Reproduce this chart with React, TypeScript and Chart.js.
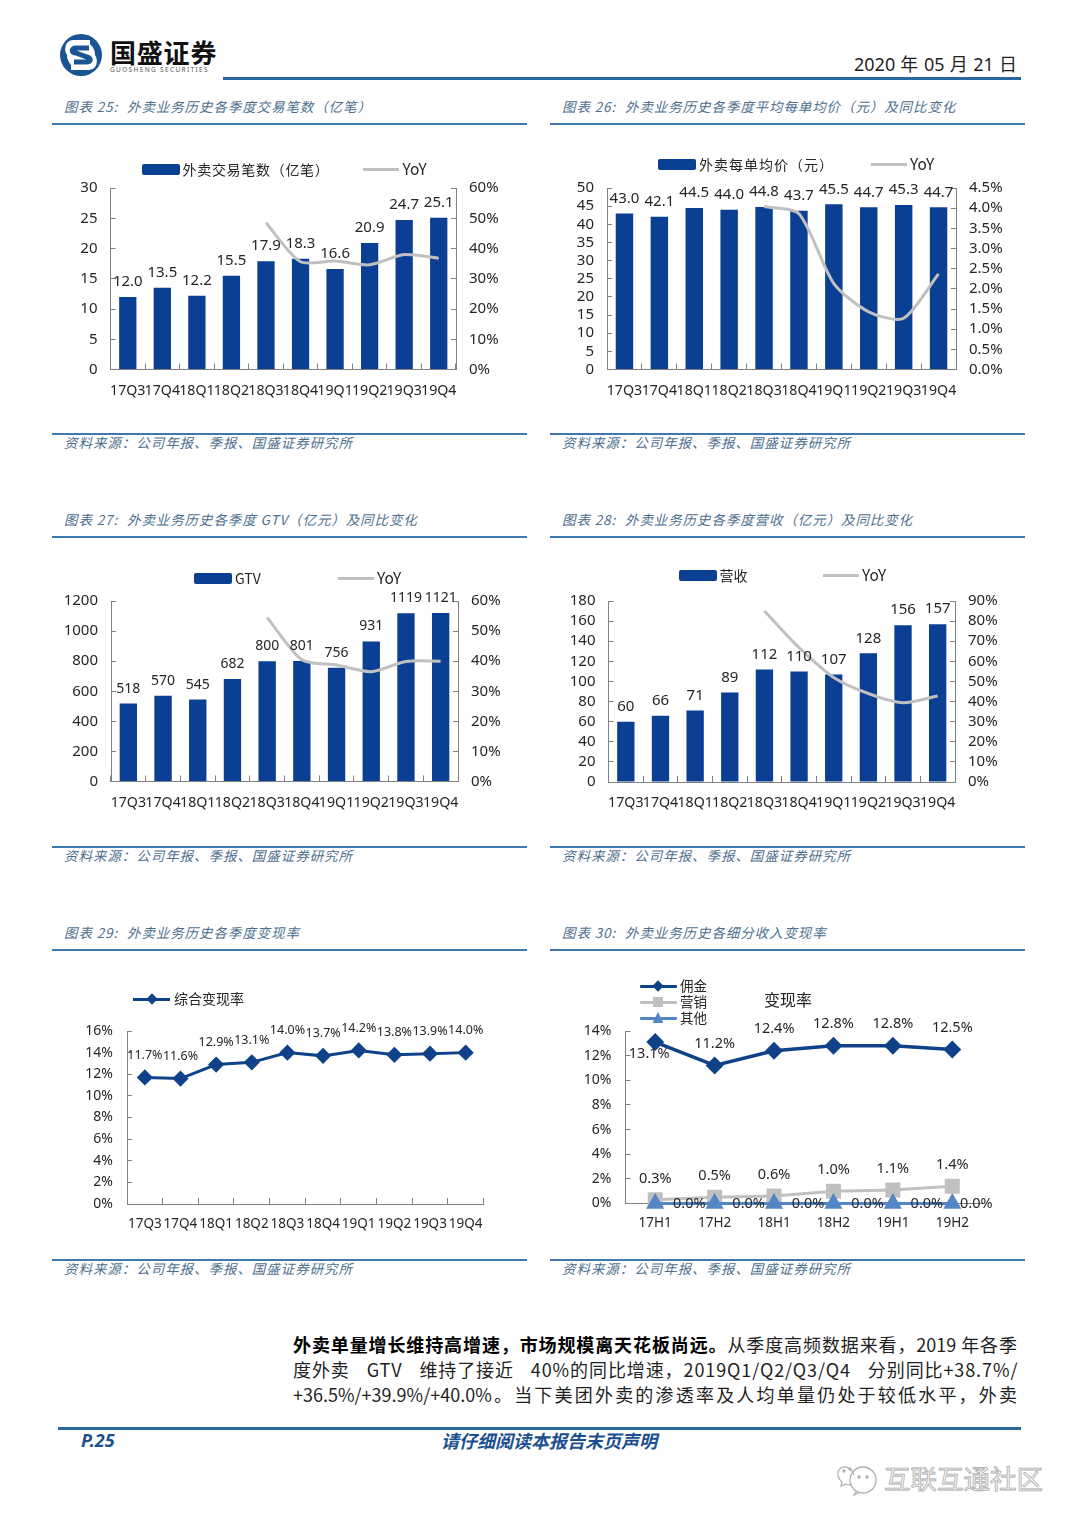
import React, { useEffect, useRef } from "react";
import { Chart, registerables } from "chart.js";

Chart.register(...registerables);

const quarters = ["17Q3", "17Q4", "18Q1", "18Q2", "18Q3", "18Q4", "19Q1", "19Q2", "19Q3", "19Q4"];
const halves = ["17H1", "17H2", "18H1", "18H2", "19H1", "19H2"];

const orders = [12.0, 13.5, 12.2, 15.5, 17.9, 18.3, 16.6, 20.9, 24.7, 25.1];
const ordersYoY = [null, null, null, null, 48.5, 35.6, 35.9, 34.6, 38.0, 36.8];
const avgPrice = [43.0, 42.1, 44.5, 44.0, 44.8, 43.7, 45.5, 44.7, 45.3, 44.7];
const avgPriceYoY = [null, null, null, null, 4.04, 3.86, 2.13, 1.43, 1.27, 2.37];
const gtv = [518, 570, 545, 682, 800, 801, 756, 931, 1119, 1121];
const gtvYoY = [null, null, null, null, 54.5, 40.5, 38.7, 36.5, 39.9, 40.0];
const revenue = [60, 66, 71, 89, 112, 110, 107, 128, 156, 157];
const revenueYoY = [null, null, null, null, 85, 66.8, 52, 44, 39.4, 42.8];
const takeRate = [11.7, 11.6, 12.9, 13.1, 14.0, 13.7, 14.2, 13.8, 13.9, 14.0];
const commission = [13.1, 11.2, 12.4, 12.8, 12.8, 12.5];
const marketing = [0.3, 0.5, 0.6, 1.0, 1.1, 1.4];
const others = [0, 0, 0, 0, 0, 0];

const NAVY = "#0b3f94";
const LINE_NAVY = "#0f4289";
const GREY = "#c0c0c0";
const SOFT_BLUE = "#5486c6";
const AXIS = "#7f7f7f";
const INK = "#262626";
const RULE = "#3f78b0";
const TITLE_INK = "#4d6f8f";
const SANS = '"Noto Sans", "Noto Sans CJK SC", sans-serif';
const CJK = '"Noto Sans CJK SC", "Noto Sans", sans-serif';

const valueLabelPlugin = {
  id: "valueLabels",
  afterDatasetsDraw(chart: any) {
    const ctx = chart.ctx;
    chart.data.datasets.forEach((ds: any, i: number) => {
      const cfg = ds.valueLabel;
      if (!cfg) return;
      const meta = chart.getDatasetMeta(i);
      ctx.save();
      ctx.font = `${cfg.size}px ${SANS}`;
      ctx.fillStyle = INK;
      ctx.textAlign = "center";
      ctx.textBaseline = "middle";
      meta.data.forEach((el: any, j: number) => {
        const v = ds.data[j];
        if (v == null) return;
        const [dx, dy] = cfg.offset(j);
        ctx.fillText(cfg.format(v), el.x + dx, el.y + dy);
      });
      ctx.restore();
    });
  },
};

type Area = { l: number; t: number; r: number; b: number };
const MARGIN_X = 60;
const MARGIN_TOP = 45;
const MARGIN_BOTTOM = 35;

function ChartBox({ area, build }: { area: Area; build: (base: any) => any }) {
  const ref = useRef<HTMLCanvasElement>(null);
  const x = Math.floor(area.l - MARGIN_X);
  const y = Math.floor(area.t - MARGIN_TOP);
  const w = Math.ceil(area.r + MARGIN_X - x);
  const h = Math.ceil(area.b + MARGIN_BOTTOM - y);
  useEffect(() => {
    const base = {
      padding: { left: 0, top: area.t - y, right: 0, bottom: 0 },
      leftW: area.l - x,
      rightW: w - (area.r - x),
      bottomH: h - (area.b - y),
    };
    const c = new Chart(ref.current as HTMLCanvasElement, build(base));
    return () => c.destroy();
  }, []);
  return (
    <canvas
      ref={ref}
      width={w}
      height={h}
      style={{ position: "absolute", left: x, top: y, width: w, height: h }}
    />
  );
}

function axisX(base: any, size: number, pad: number, showTicks = true) {
  return {
    type: "category",
    offset: true,
    grid: {
      offset: true,
      drawOnChartArea: false,
      drawTicks: showTicks,
      tickLength: -6,
      tickColor: AXIS,
    },
    border: { color: AXIS, width: 1 },
    ticks: {
      autoSkip: false,
      maxRotation: 0,
      minRotation: 0,
      padding: showTicks ? pad : pad - 6,
      color: INK,
      font: { family: SANS, size },
    },
    afterFit: (s: any) => {
      s.height = base.bottomH;
    },
  };
}

function axisY(base: any, side: "left" | "right", max: number, step: number, fmt: (v: number) => string, gap: number, size = 15) {
  return {
    type: "linear",
    position: side,
    min: 0,
    max,
    grid: { drawOnChartArea: false, tickLength: -5, tickColor: AXIS },
    border: { color: AXIS, width: 1 },
    ticks: {
      autoSkip: false,
      stepSize: step,
      padding: gap + 5,
      color: INK,
      font: { family: SANS, size },
      callback: (v: any) => fmt(Number(v)),
    },
    afterFit: (s: any) => {
      s.width = side === "left" ? base.leftW : base.rightW;
    },
  };
}

function comboConfig(
  bars: number[],
  yoy: (number | null)[],
  leftMax: number,
  leftStep: number,
  rightMax: number,
  rightStep: number,
  rightDigits: number,
  barLabel: string,
  labelSize = 15,
) {
  return (base: any) => ({
    type: "bar",
    plugins: [valueLabelPlugin],
    data: {
      labels: quarters,
      datasets: [
        {
          type: "line",
          label: "YoY",
          data: yoy,
          yAxisID: "y1",
          order: 0,
          borderColor: GREY,
          borderWidth: 3,
          tension: 0.25,
          pointRadius: 0,
          clip: false,
        },
        {
          label: barLabel,
          data: bars,
          yAxisID: "y",
          order: 1,
          backgroundColor: NAVY,
          barPercentage: 0.5,
          categoryPercentage: 1,
          valueLabel: {
            size: labelSize,
            format: (v: number) => (leftStep === 5 ? v.toFixed(1) : String(v)),
            offset: () => [0, -15],
          },
        },
      ],
    },
    options: {
      animation: false,
      responsive: false,
      devicePixelRatio: 1,
      layout: { padding: base.padding },
      plugins: { legend: { display: false }, tooltip: { enabled: false } },
      scales: {
        x: axisX(base, 14.2, 18.5),
        y: axisY(base, "left", leftMax, leftStep, (v) => String(v), 13),
        y1: axisY(base, "right", rightMax, rightStep, (v) => v.toFixed(rightDigits) + "%", 13),
      },
    },
  });
}

const pct1 = (v: number) => v.toFixed(1) + "%";
const pct0 = (v: number) => v + "%";

const takeRateConfig = (base: any) => ({
  type: "line",
  plugins: [valueLabelPlugin],
  data: {
    labels: quarters,
    datasets: [
      {
        label: "综合变现率",
        data: takeRate,
        borderColor: LINE_NAVY,
        backgroundColor: LINE_NAVY,
        borderWidth: 3,
        tension: 0,
        pointStyle: "rectRot",
        pointRadius: 6,
        clip: false,
        valueLabel: { size: 12.5, format: pct1, offset: () => [0, -22] },
      },
    ],
  },
  options: {
    animation: false,
    responsive: false,
    devicePixelRatio: 1,
    layout: { padding: { ...base.padding, right: base.rightW } },
    plugins: { legend: { display: false }, tooltip: { enabled: false } },
    scales: {
      x: axisX(base, 13.5, 18),
      y: axisY(base, "left", 16, 2, pct0, 14, 14),
    },
  },
});

const breakdownConfig = (base: any) => ({
  type: "line",
  plugins: [valueLabelPlugin],
  data: {
    labels: halves,
    datasets: [
      {
        label: "其他",
        data: others,
        order: 0,
        borderColor: SOFT_BLUE,
        backgroundColor: SOFT_BLUE,
        borderWidth: 3,
        tension: 0,
        pointStyle: "triangle",
        pointRadius: 7.5,
        clip: false,
        valueLabel: {
          size: 14.5,
          format: pct1,
          offset: (j: number) => [j === 5 ? 24 : 34, 0],
        },
      },
      {
        label: "营销",
        data: marketing,
        order: 1,
        borderColor: GREY,
        backgroundColor: GREY,
        borderWidth: 3,
        tension: 0,
        pointStyle: "rect",
        pointRadius: 8.5,
        clip: false,
        valueLabel: { size: 14.5, format: pct1, offset: () => [0, -21] },
      },
      {
        label: "佣金",
        data: commission,
        order: 2,
        borderColor: LINE_NAVY,
        backgroundColor: LINE_NAVY,
        borderWidth: 3.5,
        tension: 0,
        pointStyle: "rectRot",
        pointRadius: 6.5,
        clip: false,
        valueLabel: {
          size: 14.5,
          format: pct1,
          offset: (j: number) => (j === 0 ? [-6, 12] : [0, -22]),
        },
      },
    ],
  },
  options: {
    animation: false,
    responsive: false,
    devicePixelRatio: 1,
    layout: { padding: { ...base.padding, right: base.rightW } },
    plugins: { legend: { display: false }, tooltip: { enabled: false } },
    scales: {
      x: axisX(base, 13.5, 18, false),
      y: axisY(base, "left", 14, 2, pct0, 14, 14),
    },
  },
});

const abs = (left: number, top: number, extra: React.CSSProperties = {}): React.CSSProperties => ({
  position: "absolute",
  left,
  top,
  whiteSpace: "nowrap",
  ...extra,
});

function Txt({ x, cy, size, children, style }: any) {
  return (
    <div style={abs(x, cy - size, { fontSize: size, lineHeight: `${size * 2}px`, color: INK, fontFamily: CJK, ...style })}>
      {children}
    </div>
  );
}

function BarKey({ x, cy, label, spacing = 0 }: { x: number; cy: number; label: string; spacing?: number }) {
  return (
    <>
      <div style={abs(x, cy - 5.5, { width: 38, height: 11, background: NAVY, borderRadius: 2 })} />
      <Txt x={x + 41} cy={cy - 1} size={14} style={{ letterSpacing: spacing }}>
        {label}
      </Txt>
    </>
  );
}

function LineKey({ x, cy, label }: { x: number; cy: number; label: string }) {
  return (
    <>
      <div style={abs(x, cy - 1.5, { width: 36, height: 3, background: GREY })} />
      <Txt x={x + 39.5} cy={cy - 1} size={15.5}>
        {label}
      </Txt>
    </>
  );
}

function MarkKey({ cy, label, color, mark }: { cy: number; label: string; color: string; mark: "d" | "s" | "t" }) {
  const x = 639.5;
  const shape: React.CSSProperties =
    mark === "d"
      ? { left: x + 14, top: cy - 4, width: 8, height: 8, transform: "rotate(45deg)" }
      : mark === "s"
        ? { left: x + 13, top: cy - 5, width: 10, height: 10 }
        : { left: x + 13, top: cy - 6, width: 11, height: 11, clipPath: "polygon(50% 0,100% 100%,0 100%)" };
  return (
    <>
      <div style={abs(x, cy - 1.5, { width: 37, height: 3, background: color, borderRadius: 1 })} />
      <div style={{ position: "absolute", background: color, ...shape }} />
      <Txt x={680} cy={cy - 1} size={13.5}>
        {label}
      </Txt>
    </>
  );
}

function Panel({ x, y, fig, title, sx }: { x: number; y: number; fig: string; title: string; sx: number }) {
  const w = 475;
  const italic: React.CSSProperties = { fontStyle: "italic", color: TITLE_INK, fontFamily: CJK };
  return (
    <>
      <Txt x={sx} cy={y - 1} size={13.5} style={{ ...italic, letterSpacing: 0.9 }}>
        {`图表 ${fig}:`}
      </Txt>
      <Txt x={sx + 63} cy={y - 1} size={13.5} style={{ ...italic, letterSpacing: 0.9 }}>
        {title}
      </Txt>
      <div style={abs(x, y + 16, { width: w, height: 2, background: RULE })} />
      <div style={abs(x, y + 326, { width: w, height: 2, background: RULE })} />
      <Txt x={sx} cy={y + 335} size={13.5} style={{ ...italic, letterSpacing: 0.95 }}>
        资料来源：公司年报、季报、国盛证券研究所
      </Txt>
    </>
  );
}

function Logo() {
  return (
    <svg style={abs(59, 33)} width={44} height={44} viewBox="0 0 44 44">
      <circle cx={22} cy={22} r={21} fill="#1a5492" />
      <circle cx={22} cy={22} r={14} fill="#fff" />
      <path d="M31 10 L14 10 C8 10 7 21 14 22 L30 22 C37 23 36 34 30 34 L12 34" fill="none" stroke="#fff" strokeWidth={6} />
      <path d="M30 15 L17 15 C12 15 12 20 17 20 L28 24 C33 25 32 29 27 29 L15 29" fill="none" stroke="#1a5492" strokeWidth={5} />
    </svg>
  );
}

function WeChatMark() {
  return (
    <svg style={abs(836, 1461)} width={44} height={36} viewBox="0 0 44 36" fill="none" stroke="#b0b0b0" strokeWidth={1.3}>
      <path d="M18 14 C14 2 0 4 2 15 C3 19 5 20 6 21 L5 25 L10 23 C12 24 13 24 15 24" />
      <circle cx={27} cy={19} r={13} />
      <path d="M20 31 L18 34 L24 31" />
      <circle cx={23} cy={16} r={1} fill="#b0b0b0" />
      <circle cx={31} cy={16} r={1} fill="#b0b0b0" />
      <circle cx={8} cy={10} r={1} fill="#b0b0b0" />
      <circle cx={14} cy={8} r={1} fill="#b0b0b0" />
    </svg>
  );
}

export default function App() {
  useEffect(() => {
    document.body.style.margin = "0";
    document.body.style.background = "#fff";
  }, []);
  const bodyLine: React.CSSProperties = {
    width: 724,
    textAlign: "justify",
    textAlignLast: "justify",
    whiteSpace: "normal",
    color: "#1f1f1f",
    fontSize: 18,
    lineHeight: "26px",
  };
  return (
    <div style={{ position: "absolute", left: 0, top: 0, width: 1080, height: 1526, background: "#fff", overflow: "hidden", fontFamily: CJK }}>
      <Logo />
      <Txt x={110} cy={51.5} size={26} style={{ fontWeight: 700, color: "#111", letterSpacing: 0.8 }}>
        国盛证券
      </Txt>
      <Txt x={110} cy={69.5} size={6.5} style={{ color: "#555", letterSpacing: 1.35, fontFamily: SANS }}>
        GUOSHENG SECURITIES
      </Txt>
      <Txt x={854} cy={64} size={18} style={{ fontFamily: SANS, color: "#1f1f1f", width: 163, textAlign: "justify", textAlignLast: "justify", whiteSpace: "normal" }}>
        2020 年 05 月 21 日
      </Txt>
      <div style={abs(223, 77, { width: 798, height: 3, background: "#2a679f" })} />

      <Panel x={52} y={107} sx={64} fig="25" title="外卖业务历史各季度交易笔数（亿笔）" />
      <Panel x={550} y={107} sx={562} fig="26" title="外卖业务历史各季度平均每单均价（元）及同比变化" />
      <Panel x={52} y={520} sx={64} fig="27" title="外卖业务历史各季度 GTV（亿元）及同比变化" />
      <Panel x={550} y={520} sx={562} fig="28" title="外卖业务历史各季度营收（亿元）及同比变化" />
      <Panel x={52} y={933} sx={64} fig="29" title="外卖业务历史各季度变现率" />
      <Panel x={550} y={933} sx={562} fig="30" title="外卖业务历史各细分收入变现率" />

      <ChartBox area={{ l: 110.5, t: 188, r: 456, b: 369.5 }} build={comboConfig(orders, ordersYoY, 30, 5, 60, 10, 0, "外卖交易笔数（亿笔）")} />
      <ChartBox area={{ l: 607, t: 188, r: 956, b: 369.5 }} build={comboConfig(avgPrice, avgPriceYoY, 50, 5, 4.5, 0.5, 1, "外卖每单均价（元）")} />
      <ChartBox area={{ l: 111, t: 601, r: 458, b: 781.5 }} build={comboConfig(gtv, gtvYoY, 1200, 200, 60, 10, 0, "GTV", 14)} />
      <ChartBox area={{ l: 608.5, t: 601, r: 955, b: 782 }} build={comboConfig(revenue, revenueYoY, 180, 20, 90, 10, 0, "营收")} />
      <ChartBox area={{ l: 127, t: 1031, r: 483.5, b: 1204 }} build={takeRateConfig} />
      <ChartBox area={{ l: 625.5, t: 1031, r: 982, b: 1203.5 }} build={breakdownConfig} />

      <BarKey x={141.5} cy={169.5} label="外卖交易笔数（亿笔）" spacing={0.7} />
      <LineKey x={363} cy={169.5} label="YoY" />
      <BarKey x={658} cy={164.5} label="外卖每单均价（元）" spacing={1} />
      <LineKey x={870.5} cy={164.5} label="YoY" />
      <BarKey x={194} cy={578.5} label="GTV" />
      <LineKey x={337.5} cy={578.5} label="YoY" />
      <BarKey x={678.5} cy={575.5} label="营收" />
      <LineKey x={822.5} cy={575.5} label="YoY" />

      <div style={abs(133, 997.5, { width: 37, height: 3, background: LINE_NAVY })} />
      <div style={abs(148, 995, { width: 8, height: 8, background: LINE_NAVY, transform: "rotate(45deg)" })} />
      <Txt x={174} cy={998} size={14}>综合变现率</Txt>

      <MarkKey cy={986} label="佣金" color={LINE_NAVY} mark="d" />
      <MarkKey cy={1002} label="营销" color={GREY} mark="s" />
      <MarkKey cy={1018} label="其他" color={SOFT_BLUE} mark="t" />
      <Txt x={764} cy={999} size={16}>变现率</Txt>

      <div style={abs(293, 1331, bodyLine)}>
        <b style={{ fontWeight: 700, color: "#000" }}>外卖单量增长维持高增速，市场规模离天花板尚远。</b>从季度高频数据来看，2019 年各季
      </div>
      <div style={abs(293, 1356, { ...bodyLine, width: 760, textAlign: "left", textAlignLast: "left", whiteSpace: "nowrap", letterSpacing: 0.9, wordSpacing: 12 })}>
        度外卖 GTV 维持了接近 40%的同比增速，2019Q1/Q2/Q3/Q4 分别同比+38.7%/
      </div>
      <div style={abs(293, 1381, bodyLine)}>
        +36.5%/+39.9%/+40.0%。当下美团外卖的渗透率及人均单量仍处于较低水平，外卖
      </div>

      <div style={abs(58, 1427, { width: 963, height: 3, background: "#2a679f" })} />
      <Txt x={81} cy={1440} size={18} style={{ fontFamily: SANS, fontWeight: 700, fontStyle: "italic", color: "#1c4f8f" }}>
        P.25
      </Txt>
      <Txt x={441} cy={1440} size={18} style={{ fontWeight: 700, fontStyle: "italic", color: "#1c4f8f" }}>
        请仔细阅读本报告末页声明
      </Txt>
      <WeChatMark />
      <Txt x={884} cy={1477} size={26.5} style={{ color: "#fff", WebkitTextStroke: "0.8px #a8a8a8" }}>
        互联互通社区
      </Txt>
    </div>
  );
}
